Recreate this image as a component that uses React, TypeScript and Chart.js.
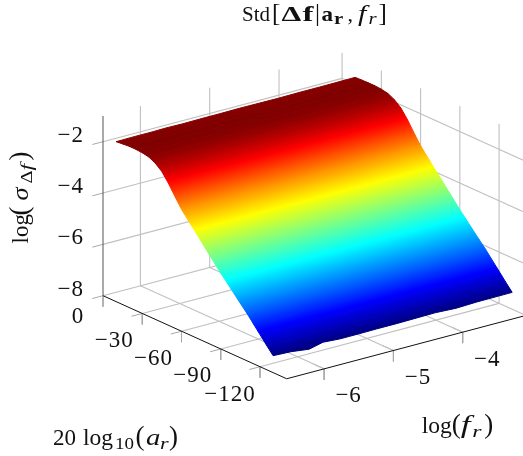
import React, { useEffect, useRef } from "react";
import { Chart, registerables } from "chart.js";

Chart.register(...registerables);

// ---- data ----
const aValues = [-10, -15, -20, -25, -30, -35, -40, -45, -50, -55, -60, -65, -70, -75, -80, -85, -90, -95, -100, -105, -110, -115, -120, -125, -130];
const logFValues = [-6.54, -6.28, -6.02, -5.82, -5.58, -5.3, -5.05, -4.76, -4.2, -3.9, -3.6, -3.09];
const logSigma = [
  [-1.77, -1.76, -1.76, -1.75, -1.76, -1.75, -1.75, -1.74, -1.75, -1.74, -1.74, -1.73],
  [-1.74, -1.74, -1.73, -1.74, -1.73, -1.73, -1.74, -1.73, -1.73, -1.73, -1.72, -1.72],
  [-1.72, -1.72, -1.72, -1.72, -1.72, -1.71, -1.72, -1.71, -1.72, -1.71, -1.71, -1.71],
  [-1.72, -1.72, -1.71, -1.72, -1.71, -1.72, -1.71, -1.71, -1.72, -1.71, -1.71, -1.71],
  [-1.74, -1.74, -1.74, -1.73, -1.74, -1.73, -1.74, -1.73, -1.73, -1.73, -1.73, -1.73],
  [-1.79, -1.79, -1.78, -1.79, -1.78, -1.78, -1.79, -1.78, -1.78, -1.78, -1.78, -1.78],
  [-1.92, -1.92, -1.91, -1.92, -1.91, -1.92, -1.91, -1.92, -1.91, -1.91, -1.91, -1.91],
  [-2.13, -2.13, -2.13, -2.12, -2.13, -2.13, -2.12, -2.13, -2.12, -2.13, -2.12, -2.12],
  [-2.47, -2.47, -2.46, -2.47, -2.46, -2.47, -2.47, -2.46, -2.47, -2.46, -2.46, -2.46],
  [-2.87, -2.87, -2.87, -2.86, -2.87, -2.86, -2.87, -2.87, -2.86, -2.87, -2.86, -2.86],
  [-3.25, -3.25, -3.26, -3.25, -3.25, -3.26, -3.25, -3.25, -3.25, -3.25, -3.25, -3.24],
  [-3.56, -3.56, -3.56, -3.55, -3.56, -3.56, -3.55, -3.56, -3.55, -3.56, -3.55, -3.55],
  [-3.85, -3.85, -3.86, -3.85, -3.85, -3.85, -3.86, -3.85, -3.85, -3.85, -3.84, -3.85],
  [-4.15, -4.15, -4.16, -4.15, -4.15, -4.16, -4.15, -4.15, -4.15, -4.15, -4.15, -4.14],
  [-4.45, -4.45, -4.46, -4.45, -4.46, -4.45, -4.45, -4.46, -4.45, -4.45, -4.45, -4.44],
  [-4.75, -4.75, -4.76, -4.75, -4.75, -4.76, -4.75, -4.75, -4.75, -4.76, -4.75, -4.74],
  [-5.05, -5.05, -5.06, -5.04, -5.05, -5.05, -5.06, -5.05, -5.05, -5.05, -5.05, -5.04],
  [-5.32, -5.33, -5.34, -5.32, -5.33, -5.33, -5.33, -5.32, -5.33, -5.33, -5.32, -5.32],
  [-5.6, -5.61, -5.62, -5.6, -5.61, -5.61, -5.6, -5.6, -5.6, -5.61, -5.6, -5.6],
  [-5.88, -5.89, -5.9, -5.88, -5.89, -5.89, -5.89, -5.88, -5.88, -5.89, -5.88, -5.88],
  [-6.15, -6.16, -6.19, -6.15, -6.17, -6.17, -6.16, -6.16, -6.15, -6.17, -6.15, -6.15],
  [-6.45, -6.46, -6.5, -6.45, -6.47, -6.47, -6.46, -6.46, -6.45, -6.47, -6.45, -6.45],
  [-6.75, -6.76, -6.82, -6.75, -6.77, -6.78, -6.77, -6.76, -6.75, -6.78, -6.76, -6.75],
  [-7.05, -7.06, -7.14, -7.05, -7.07, -7.08, -7.07, -7.06, -7.05, -7.09, -7.06, -7.05],
  [-7.34, -7.37, -7.46, -7.33, -7.375, -7.375, -7.365, -7.365, -7.34, -7.38, -7.35, -7.34],
];
const zTicks = [-2, -4, -6, -8];
const aTicks = [0, -30, -60, -90, -120];
const fTicks = [-6, -5, -4];
const F_MIN = -6.54;
const F_MAX = -3.09;
const A_TOP = 0;
const A_BOTTOM = -140.4;
const Z_MIN = -8;
const Z_MAX = -1;

// ---- view (orthographic projection of the 3D axis box) ----
const ORIGIN = { x: 103, y: 295.7 };
const PER_F = { x: 69.3, y: -18.35 };
const PER_DB = { x: -39.25 / 30, y: -17.75 / 30 };
const PER_Z = 25.67;
const project = (f: number, a: number, z: number) => ({
  x: ORIGIN.x + (f - F_MIN) * PER_F.x + a * PER_DB.x,
  y: ORIGIN.y + (f - F_MIN) * PER_F.y + a * PER_DB.y - (z - Z_MIN) * PER_Z,
});

// ---- pgfplots jet colour map ----
const JET: [number, number, number, number][] = [
  [0, 0, 0, 128],
  [1 / 8, 0, 0, 255],
  [3 / 8, 0, 255, 255],
  [5 / 8, 255, 255, 0],
  [7 / 8, 255, 0, 0],
  [1, 128, 0, 0],
];
const rowMean = logSigma.map((row) => row.reduce((s, v) => s + v, 0) / row.length);
const META_MIN = Math.min(...rowMean);
const META_MAX = Math.max(...rowMean);
const jet = (z: number) => {
  const t = Math.max(0, Math.min(1, (z - META_MIN) / (META_MAX - META_MIN)));
  for (let i = 1; i < JET.length; i++) {
    if (t <= JET[i][0]) {
      const p = JET[i - 1];
      const q = JET[i];
      const k = (t - p[0]) / (q[0] - p[0]);
      return `rgb(${Math.round(p[1] + (q[1] - p[1]) * k)},${Math.round(p[2] + (q[2] - p[2]) * k)},${Math.round(p[3] + (q[3] - p[3]) * k)})`;
    }
  }
  return "rgb(128,0,0)";
};

const lineSet = (pts: { x: number; y: number }[], color: string, width: number) => ({
  type: "line" as const,
  data: pts,
  borderColor: color,
  borderWidth: width,
  pointRadius: 0,
  fill: false,
  clip: false,
  tension: 0,
});

const GRID = "#c0c0c0";
const TICK = "#a8a8a8";

function buildGrid() {
  const out: any[] = [];
  for (const z of zTicks) {
    out.push(lineSet([project(F_MIN, A_TOP, z), project(F_MAX, A_TOP, z)], GRID, 1.1));
    out.push(lineSet([project(F_MAX, A_TOP, z), project(F_MAX, A_BOTTOM, z)], GRID, 1.1));
    out.push(lineSet([project(F_MIN, A_TOP, z), project(F_MIN - 0.154, A_TOP, z)], TICK, 1));
  }
  for (const f of [...fTicks]) {
    out.push(lineSet([project(f, A_TOP, Z_MIN), project(f, A_TOP, Z_MAX)], GRID, 1.1));
    out.push(lineSet([project(f, A_TOP, Z_MIN), project(f, A_BOTTOM, Z_MIN)], GRID, 1.1));
    out.push(lineSet([project(f, A_BOTTOM, Z_MIN), project(f, A_BOTTOM, Z_MIN - 0.43)], TICK, 1));
    out.push(lineSet([project(f, A_BOTTOM, Z_MIN), project(f, A_BOTTOM + 8.4, Z_MIN)], TICK, 1));
  }
  out.push(lineSet([project(F_MAX, A_TOP, Z_MIN), project(F_MAX, A_TOP, Z_MAX)], GRID, 1.1));
  for (const a of aTicks) {
    if (a !== 0) {
      out.push(lineSet([project(F_MAX, a, Z_MIN), project(F_MAX, a, Z_MAX)], GRID, 1.1));
      out.push(lineSet([project(F_MIN, a, Z_MIN), project(F_MAX, a, Z_MIN)], GRID, 1.1));
      out.push(lineSet([project(F_MIN, a, Z_MIN), project(F_MIN - 0.154, a, Z_MIN)], TICK, 1));
    }
    out.push(lineSet([project(F_MIN, a, Z_MIN), project(F_MIN, a, Z_MIN - 0.43)], TICK, 1));
  }
  return out;
}

function buildAxes() {
  return [
    lineSet([project(F_MIN, A_TOP, Z_MIN), project(F_MIN, A_TOP, Z_MAX)], "#555555", 1),
    lineSet([project(F_MIN, A_TOP, Z_MIN), project(F_MIN, A_BOTTOM, Z_MIN)], "#111111", 1),
    lineSet([project(F_MIN, A_BOTTOM, Z_MIN), project(F_MAX, A_BOTTOM, Z_MIN)], "#111111", 1),
  ];
}

function buildSurface() {
  const n = Math.hypot(PER_F.x, PER_F.y);
  const nx = -PER_F.y / n;
  const ny = PER_F.x / n;
  const out: any[] = [];
  // front rows first: a lower dataset index is painted on top
  for (let r = aValues.length - 2; r >= 0; r--) {
    const back = project(F_MIN, aValues[r], rowMean[r]);
    const front = project(F_MIN, aValues[r + 1], rowMean[r + 1]);
    const along = (front.x - back.x) * nx + (front.y - back.y) * ny;
    let cached: CanvasGradient | null = null;
    const paint = (ctx: any) => {
      if (cached) return cached;
      const g = ctx.chart.ctx.createLinearGradient(back.x, back.y, back.x + along * nx, back.y + along * ny);
      for (let i = 0; i <= 8; i++) {
        const k = i / 8;
        g.addColorStop(k, jet(rowMean[r] + (rowMean[r + 1] - rowMean[r]) * k));
      }
      cached = g;
      return g;
    };
    const upper = logFValues.map((f, c) => project(f, aValues[r], logSigma[r][c]));
    const lower = logFValues.map((f, c) => project(f, aValues[r + 1], logSigma[r + 1][c])).reverse();
    out.push({
      type: "line" as const,
      data: [...upper, ...lower, upper[0]],
      backgroundColor: paint,
      borderColor: paint,
      borderWidth: 1,
      pointRadius: 0,
      fill: "shape",
      clip: false,
      tension: 0,
    });
  }
  return out;
}

// ---- text ----
const SERIF = '"Liberation Serif", "DejaVu Serif", serif';
type Run = { t: string; x: number; s: number; style?: string; dy?: number; sx?: number };
const drawRuns = (c: CanvasRenderingContext2D, runs: Run[], x: number, y: number) => {
  for (const r of runs) {
    c.font = `${r.style ?? ""} ${r.s}px ${SERIF}`;
    c.save();
    c.translate(x + r.x, y + (r.dy ?? 0));
    c.scale(r.sx ?? 1, 1);
    c.fillText(r.t, 0, 0);
    c.restore();
  }
};

const TITLE: Run[] = [
  { t: "Std", x: 0, s: 21 },
  { t: "[", x: 30, s: 25 },
  { t: "Δ", x: 39.5, s: 21, style: "bold", sx: 1.5 },
  { t: "f", x: 60.5, s: 22, style: "bold", sx: 1.5 },
  { t: "|", x: 73, s: 25 },
  { t: "a", x: 79.5, s: 22, style: "bold", sx: 1.05 },
  { t: "r", x: 92, s: 16, style: "bold", dy: 3, sx: 1.3 },
  { t: ",", x: 105.5, s: 22 },
  { t: "f", x: 116, s: 23, style: "italic", sx: 1.3 },
  { t: "r", x: 126.5, s: 16, style: "italic", dy: 3, sx: 1.3 },
  { t: "]", x: 136.5, s: 25 },
];
const A_LABEL: Run[] = [
  { t: "20", x: 3, s: 23 },
  { t: "log", x: 33, s: 23.5 },
  { t: "10", x: 65, s: 16.5, dy: 4, sx: 1.15 },
  { t: "(", x: 85.5, s: 27 },
  { t: "a", x: 96, s: 24, style: "italic", sx: 1.2 },
  { t: "r", x: 110, s: 17, style: "italic", dy: 4, sx: 1.3 },
  { t: ")", x: 119, s: 27 },
];
const F_LABEL: Run[] = [
  { t: "log", x: 0, s: 23.5 },
  { t: "(", x: 30, s: 27 },
  { t: "f", x: 39, s: 25, style: "italic", sx: 1.4 },
  { t: "r", x: 50.5, s: 17, style: "italic", dy: 4, sx: 1.4 },
  { t: ")", x: 62.5, s: 27 },
];
const Z_LABEL: Run[] = [
  { t: "log", x: 0, s: 23 },
  { t: "(", x: 28, s: 27 },
  { t: "σ", x: 43, s: 24, style: "italic", sx: 1.1 },
  { t: "Δ", x: 60, s: 17, dy: 3.5, sx: 1.2 },
  { t: "f", x: 73, s: 17, style: "italic", dy: 3.5, sx: 1.4 },
  { t: ")", x: 83, s: 27 },
];

const textPlugin = {
  id: "labels3d",
  afterDraw(chart: any) {
    const c: CanvasRenderingContext2D = chart.ctx;
    const sx = (v: number) => chart.scales.x.getPixelForValue(v);
    const sy = (v: number) => chart.scales.y.getPixelForValue(v);
    c.save();
    c.fillStyle = "#111111";
    c.textBaseline = "alphabetic";
    c.textAlign = "left";
    drawRuns(c, TITLE, 242, 21);
    drawRuns(c, A_LABEL, 50, 445);
    drawRuns(c, F_LABEL, 421.7, 433);
    c.save();
    c.translate(28, 243.5);
    c.rotate(-Math.PI / 2);
    drawRuns(c, Z_LABEL, 0, 0);
    c.restore();
    c.font = `23px ${SERIF}`;
    (c as any).letterSpacing = "1px";
    c.textAlign = "right";
    const tick = (s: string, p: { x: number; y: number }, dx: number, dy: number) =>
      c.fillText(s, sx(p.x) + dx, sy(p.y) + dy);
    for (const z of zTicks) tick(`−${-z}`, project(F_MIN, A_TOP, z), -19, 0);
    c.textAlign = "center";
    for (const a of aTicks) {
      const p = project(F_MIN, a, Z_MIN);
      if (a === 0) tick("0", p, -25, 27);
      else if (a === -120) tick(`−${-a}`, p, -30, 34);
      else tick(`−${-a}`, p, -28, 33.5);
    }
    for (const f of fTicks) tick(`−${-f}`, project(f, A_BOTTOM, Z_MIN), 24.5, 33.5);
    (c as any).letterSpacing = "0px";
    c.restore();
  },
};

export default function App() {
  const ref = useRef<HTMLCanvasElement>(null);
  useEffect(() => {
    document.body.style.margin = "0";
    const chart = new Chart(ref.current!, {
      type: "line",
      data: { datasets: [...buildAxes(), ...buildSurface(), ...buildGrid()] },
      options: {
        animation: false,
        responsive: false,
        parsing: false,
        normalized: true,
        layout: { padding: 0 },
        plugins: { legend: { display: false }, tooltip: { enabled: false } },
        scales: {
          x: { type: "linear", min: 0, max: 523, display: false },
          y: { type: "linear", min: 0, max: 456, reverse: true, display: false },
        },
      },
      plugins: [textPlugin],
    } as any);
    return () => chart.destroy();
  }, []);
  return <canvas ref={ref} width={523} height={456} style={{ display: "block" }} />;
}
